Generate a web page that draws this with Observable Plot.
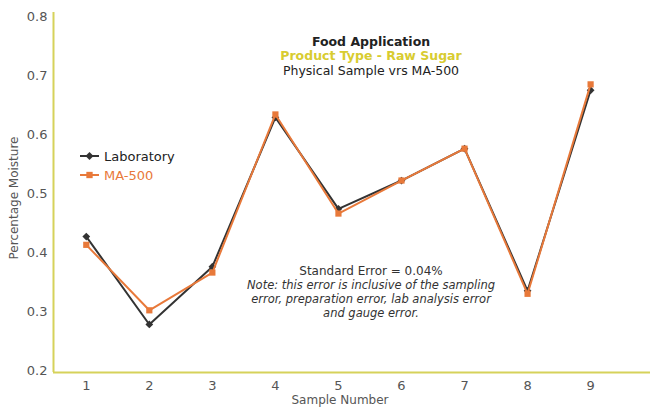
<!DOCTYPE html>
<html><head><meta charset="utf-8">
<script src="https://cdn.jsdelivr.net/npm/d3@7"></script>
<script src="https://cdn.jsdelivr.net/npm/@observablehq/plot@0.6"></script>
<style>
body{margin:0;background:#fff;}
#wrap{position:relative;width:650px;height:412px;font-family:"DejaVu Sans",sans-serif;}
</style></head><body>
<div id="wrap"></div>
<script>
const samples = [1,2,3,4,5,6,7,8,9];
const laboratory = [0.427,0.278,0.376,0.629,0.474,0.522,0.576,0.335,0.675];
const ma500 = [0.413,0.302,0.366,0.634,0.466,0.522,0.576,0.330,0.685];
const yTicks = [0.2,0.3,0.4,0.5,0.6,0.7,0.8];
const titleLines = ["Food Application","Product Type - Raw Sugar","Physical Sample vrs MA-500"];
const noteLines = ["Standard Error = 0.04%","Note: this error is inclusive of the sampling","error, preparation error, lab analysis error","and gauge error."];
const xLabel = "Sample Number", yLabel = "Percentage Moisture";

const labData = samples.map((s,i)=>({sample:s, value:laboratory[i], series:"Laboratory"}));
const maData = samples.map((s,i)=>({sample:s, value:ma500[i], series:"MA-500"}));

const labColor = "#333333", maColor = "#e8793a", axisColor = "#d6d25a", textColor = "#555";
const yMin = 0.1966, xMin = 0.48;
const cx = 19;

const plot = Plot.plot({
  width: 650, height: 412,
  marginLeft: 53, marginRight: 0, marginTop: 12, marginBottom: 40,
  style: {fontFamily: '"DejaVu Sans", sans-serif', fontSize: "13px", color: textColor, background: "#fff"},
  x: {domain: [xMin, 9.95], ticks: samples, tickFormat: d3.format("d"), tickSize: 0, tickPadding: 8, label: null},
  y: {domain: [yMin, 0.8068], ticks: yTicks, tickFormat: d3.format(".1f"), tickSize: 0, tickPadding: 6, label: null},
  marks: [
    Plot.ruleX([xMin], {stroke: axisColor, strokeWidth: 2}),
    Plot.ruleY([yMin], {stroke: axisColor, strokeWidth: 2}),
    Plot.line(labData, {x: "sample", y: "value", stroke: labColor, strokeWidth: 2}),
    Plot.dot(labData, {x: "sample", y: "value", symbol: "diamond2", fill: labColor, r: 3.5}),
    Plot.line(maData, {x: "sample", y: "value", stroke: maColor, strokeWidth: 2}),
    Plot.dot(maData, {x: "sample", y: "value", symbol: "square", fill: maColor, r: 3.5}),
    Plot.text([titleLines[0]], {frameAnchor: "top", dx: cx, dy: 25, fontWeight: "bold", fontSize: 12.5, fill: "#222"}),
    Plot.text([titleLines[1]], {frameAnchor: "top", dx: cx, dy: 39, fontWeight: "bold", fontSize: 12.5, fill: "#d8cc30"}),
    Plot.text([titleLines[2]], {frameAnchor: "top", dx: cx, dy: 54, fontSize: 12.5, fill: "#222"}),
    Plot.text([noteLines[0]], {frameAnchor: "top", dx: cx, dy: 254, fontSize: 12, fill: "#333"}),
    Plot.text([noteLines[1]], {frameAnchor: "top", dx: cx, dy: 268, fontSize: 11.5, fontStyle: "italic", fill: "#333"}),
    Plot.text([noteLines[2]], {frameAnchor: "top", dx: cx, dy: 282, fontSize: 11.5, fontStyle: "italic", fill: "#333"}),
    Plot.text([noteLines[3]], {frameAnchor: "top", dx: cx, dy: 296, fontSize: 11.5, fontStyle: "italic", fill: "#333"}),
    Plot.text([xLabel], {frameAnchor: "bottom", dx: -12, dy: 31, fontSize: 12, fill: textColor})
  ]
});
document.getElementById("wrap").appendChild(plot);

const svg = d3.select(plot);
// y axis label
svg.append("text").attr("transform","translate(14,198) rotate(-90)").attr("text-anchor","middle")
  .attr("dy","0.35em").attr("font-size",12).attr("fill",textColor).text(yLabel);

// legend
const leg = svg.append("g").attr("text-anchor","start");
const items = [{name:"Laboratory", color: labColor, sym: "diamond", y: 156},{name:"MA-500", color: maColor, sym: "square", y: 175}];
items.forEach(it=>{
  leg.append("line").attr("x1",80).attr("x2",99).attr("y1",it.y).attr("y2",it.y).attr("stroke",it.color).attr("stroke-width",2);
  leg.append("path").attr("d", d3.symbol(it.sym==="diamond"? d3.symbolDiamond2 : d3.symbolSquare, 40)()).attr("transform",`translate(89.5,${it.y})`).attr("fill",it.color);
  leg.append("text").attr("x",104).attr("y",it.y).attr("dy","0.35em").attr("text-anchor","start").attr("fill", it.color===labColor? "#222" : maColor).attr("font-size",13).text(it.name);
});
</script>
</body></html>
